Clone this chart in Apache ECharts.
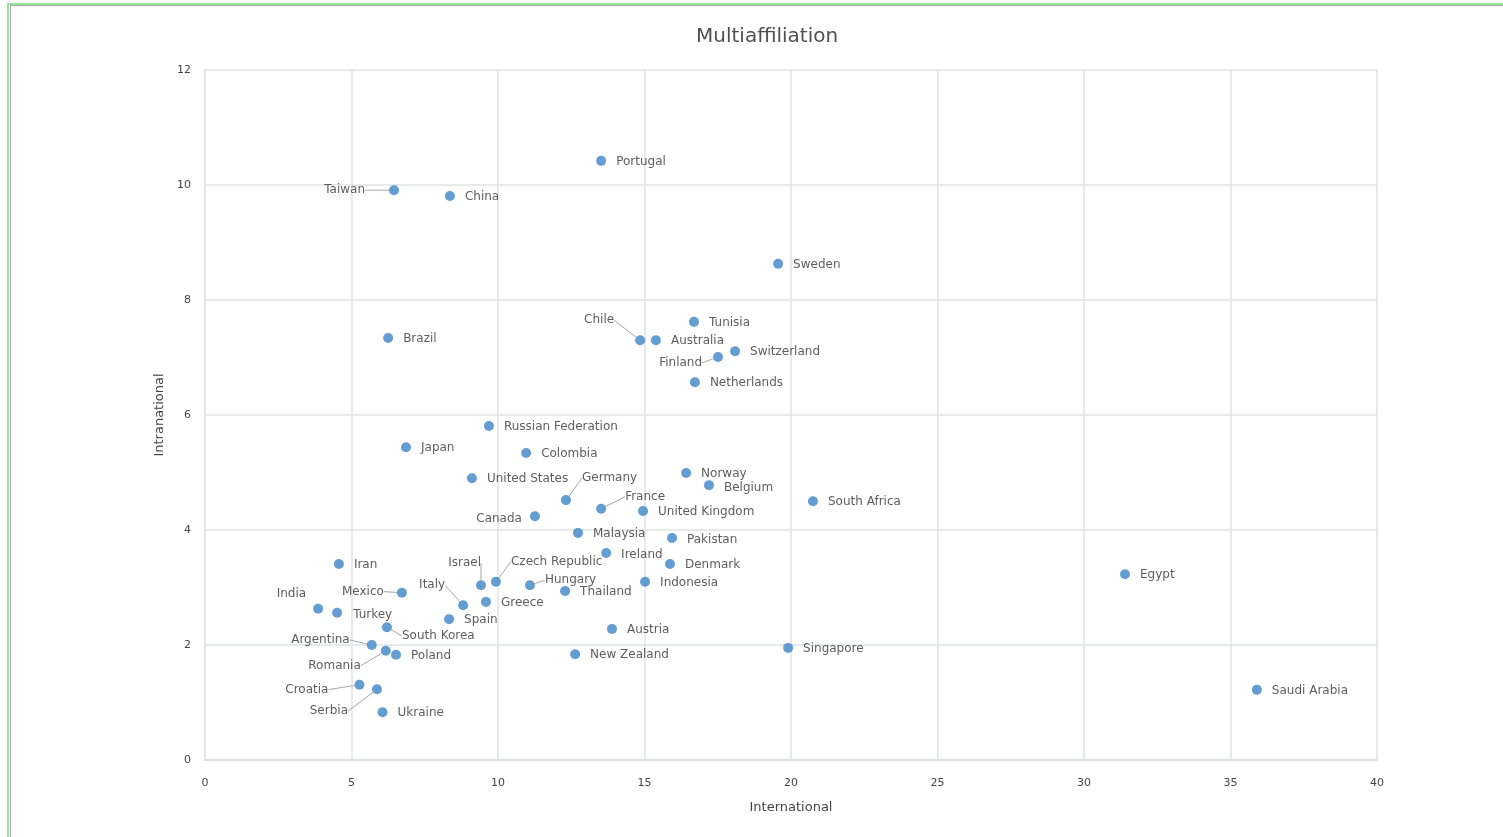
<!DOCTYPE html>
<html>
<head>
<meta charset="utf-8">
<script src="https://cdn.jsdelivr.net/npm/echarts@6/dist/echarts.min.js"></script>
<style>
  html, body { margin: 0; padding: 0; background: #fff; }
  #chart { position: absolute; left: 0; top: 0; width: 1503px; height: 837px; }
  .bd { position: absolute; }
</style>
</head>
<body>
<div id="chart"></div>
<div class="bd" style="left:7px;top:3px;width:1496px;height:2px;background:#9be39b;"></div>
<div class="bd" style="left:10px;top:5px;width:1493px;height:1px;background:#a8a8a8;"></div>
<div class="bd" style="left:7px;top:3px;width:2px;height:834px;background:#9be39b;"></div>
<div class="bd" style="left:10px;top:5px;width:1px;height:832px;background:#a8a8a8;"></div>
<script>
const countries = ['Portugal','Taiwan','China','Sweden','Brazil','Tunisia','Chile','Australia','Switzerland','Finland','Netherlands','Russian Federation','Japan','Colombia','United States','Germany','France','Canada','Norway','Belgium','South Africa','United Kingdom','Malaysia','Pakistan','Ireland','Denmark','Indonesia','Iran','Israel','Czech Republic','Hungary','Thailand','Mexico','Italy','Greece','Spain','India','Turkey','South Korea','Austria','Argentina','Romania','Poland','New Zealand','Croatia','Serbia','Ukraine','Singapore','Egypt','Saudi Arabia'];
const international = [13.52,6.45,8.36,19.56,6.25,16.69,14.85,15.39,18.09,17.51,16.72,9.69,6.86,10.96,9.11,12.32,13.52,11.26,16.42,17.20,20.75,14.95,12.73,15.94,13.69,15.87,15.02,4.57,9.42,9.93,11.09,12.29,6.72,8.81,9.59,8.33,3.86,4.51,6.21,13.89,5.69,6.17,6.52,12.63,5.27,5.87,6.06,19.90,31.40,35.90];
const intranational = [10.42,9.91,9.81,8.63,7.34,7.62,7.30,7.30,7.11,7.01,6.57,5.81,5.44,5.34,4.90,4.52,4.37,4.24,4.99,4.78,4.50,4.33,3.95,3.86,3.60,3.41,3.10,3.41,3.04,3.10,3.04,2.94,2.91,2.69,2.75,2.45,2.63,2.56,2.31,2.28,2.00,1.90,1.83,1.84,1.31,1.23,0.83,1.95,3.23,1.22];
const xTicks = { min: 0, max: 40, interval: 5 };
const yTicks = { min: 0, max: 12, interval: 2 };

// label placement (styling): [dx, dy, align, leaderLine]
const placement = {
  'Taiwan': [-29, 0, 'right', true],
  'Chile': [-26, -20, 'right', true],
  'Finland': [-16, 6, 'right', true],
  'Germany': [16, -22, 'left', true],
  'France': [24, -12, 'left', true],
  'Canada': [-13, 3, 'right', false],
  'Belgium': [15, 3, 'left', false],
  'Israel': [0, -22, 'right', true],
  'Czech Republic': [15, -20, 'left', true],
  'Hungary': [15, -5, 'left', true],
  'Mexico': [-18, -1, 'right', true],
  'Italy': [-18, -20, 'right', true],
  'India': [-12, -15, 'right', false],
  'South Korea': [15, 9, 'left', true],
  'Argentina': [-22, -5, 'right', true],
  'Romania': [-25, 15, 'right', true],
  'Croatia': [-31, 5, 'right', true],
  'Serbia': [-29, 22, 'right', true],
  'Ireland': [15, 2, 'left', false],
  'Pakistan': [15, 2, 'left', false],
  'Turkey': [16, 2, 'left', false]
};
const defPlace = [15, 1, 'left', false];

const FONT = 'DejaVu Sans';
const seriesData = countries.map((c, i) => {
  const p = placement[c] || defPlace;
  return {
    name: c,
    value: [international[i], intranational[i]],
    labelLine: { show: p[3], lineStyle: { color: '#a6a6a6', width: 1 } }
  };
});

const chart = echarts.init(document.getElementById('chart'), null, { renderer: 'canvas' });
chart.setOption({
  animation: false,
  backgroundColor: '#ffffff',
  title: {
    text: 'Multiaffiliation',
    left: 691, top: 22,
    textStyle: { fontFamily: FONT, fontSize: 20, fontWeight: 'normal', color: '#505050' }
  },
  grid: { left: 205, right: 126, top: 70, bottom: 77, containLabel: false },
  xAxis: {
    type: 'value', min: xTicks.min, max: xTicks.max, interval: xTicks.interval,
    name: 'International', nameLocation: 'middle', nameGap: 41,
    nameTextStyle: { fontFamily: FONT, fontSize: 13, color: '#454545' },
    axisLine: { show: true, lineStyle: { color: '#d9dcdc', width: 1.5 } },
    axisTick: { show: false },
    axisLabel: { fontFamily: FONT, fontSize: 11, color: '#454545', margin: 18 },
    splitLine: { show: true, lineStyle: { color: '#dfe3e3', width: 1.5 } }
  },
  yAxis: {
    type: 'value', min: yTicks.min, max: yTicks.max, interval: yTicks.interval,
    name: 'Intranational', nameLocation: 'middle', nameGap: 39,
    nameTextStyle: { fontFamily: FONT, fontSize: 13, color: '#454545' },
    axisLine: { show: true, lineStyle: { color: '#dfe3e3', width: 1.5 } },
    axisTick: { show: false },
    axisLabel: { fontFamily: FONT, fontSize: 11, color: '#454545', margin: 14 },
    splitLine: { show: true, lineStyle: { color: '#dfe3e3', width: 1.5 } }
  },
  series: [{
    type: 'scatter',
    symbol: 'circle',
    symbolSize: 10,
    itemStyle: { color: '#3d85c6' },
    data: seriesData,
    label: {
      show: true,
      position: 'right',
      formatter: p => p.name,
      fontFamily: FONT, fontSize: 12, color: '#333333'
    },
    labelLine: { show: false },
    labelLayout: function (params) {
      const p = placement[countries[params.dataIndex]] || defPlace;
      const cx = params.rect.x + params.rect.width / 2;
      const cy = params.rect.y + params.rect.height / 2;
      return { x: cx + p[0], y: cy + p[1], align: p[2], verticalAlign: 'middle' };
    }
  }]
});
</script>
</body>
</html>
